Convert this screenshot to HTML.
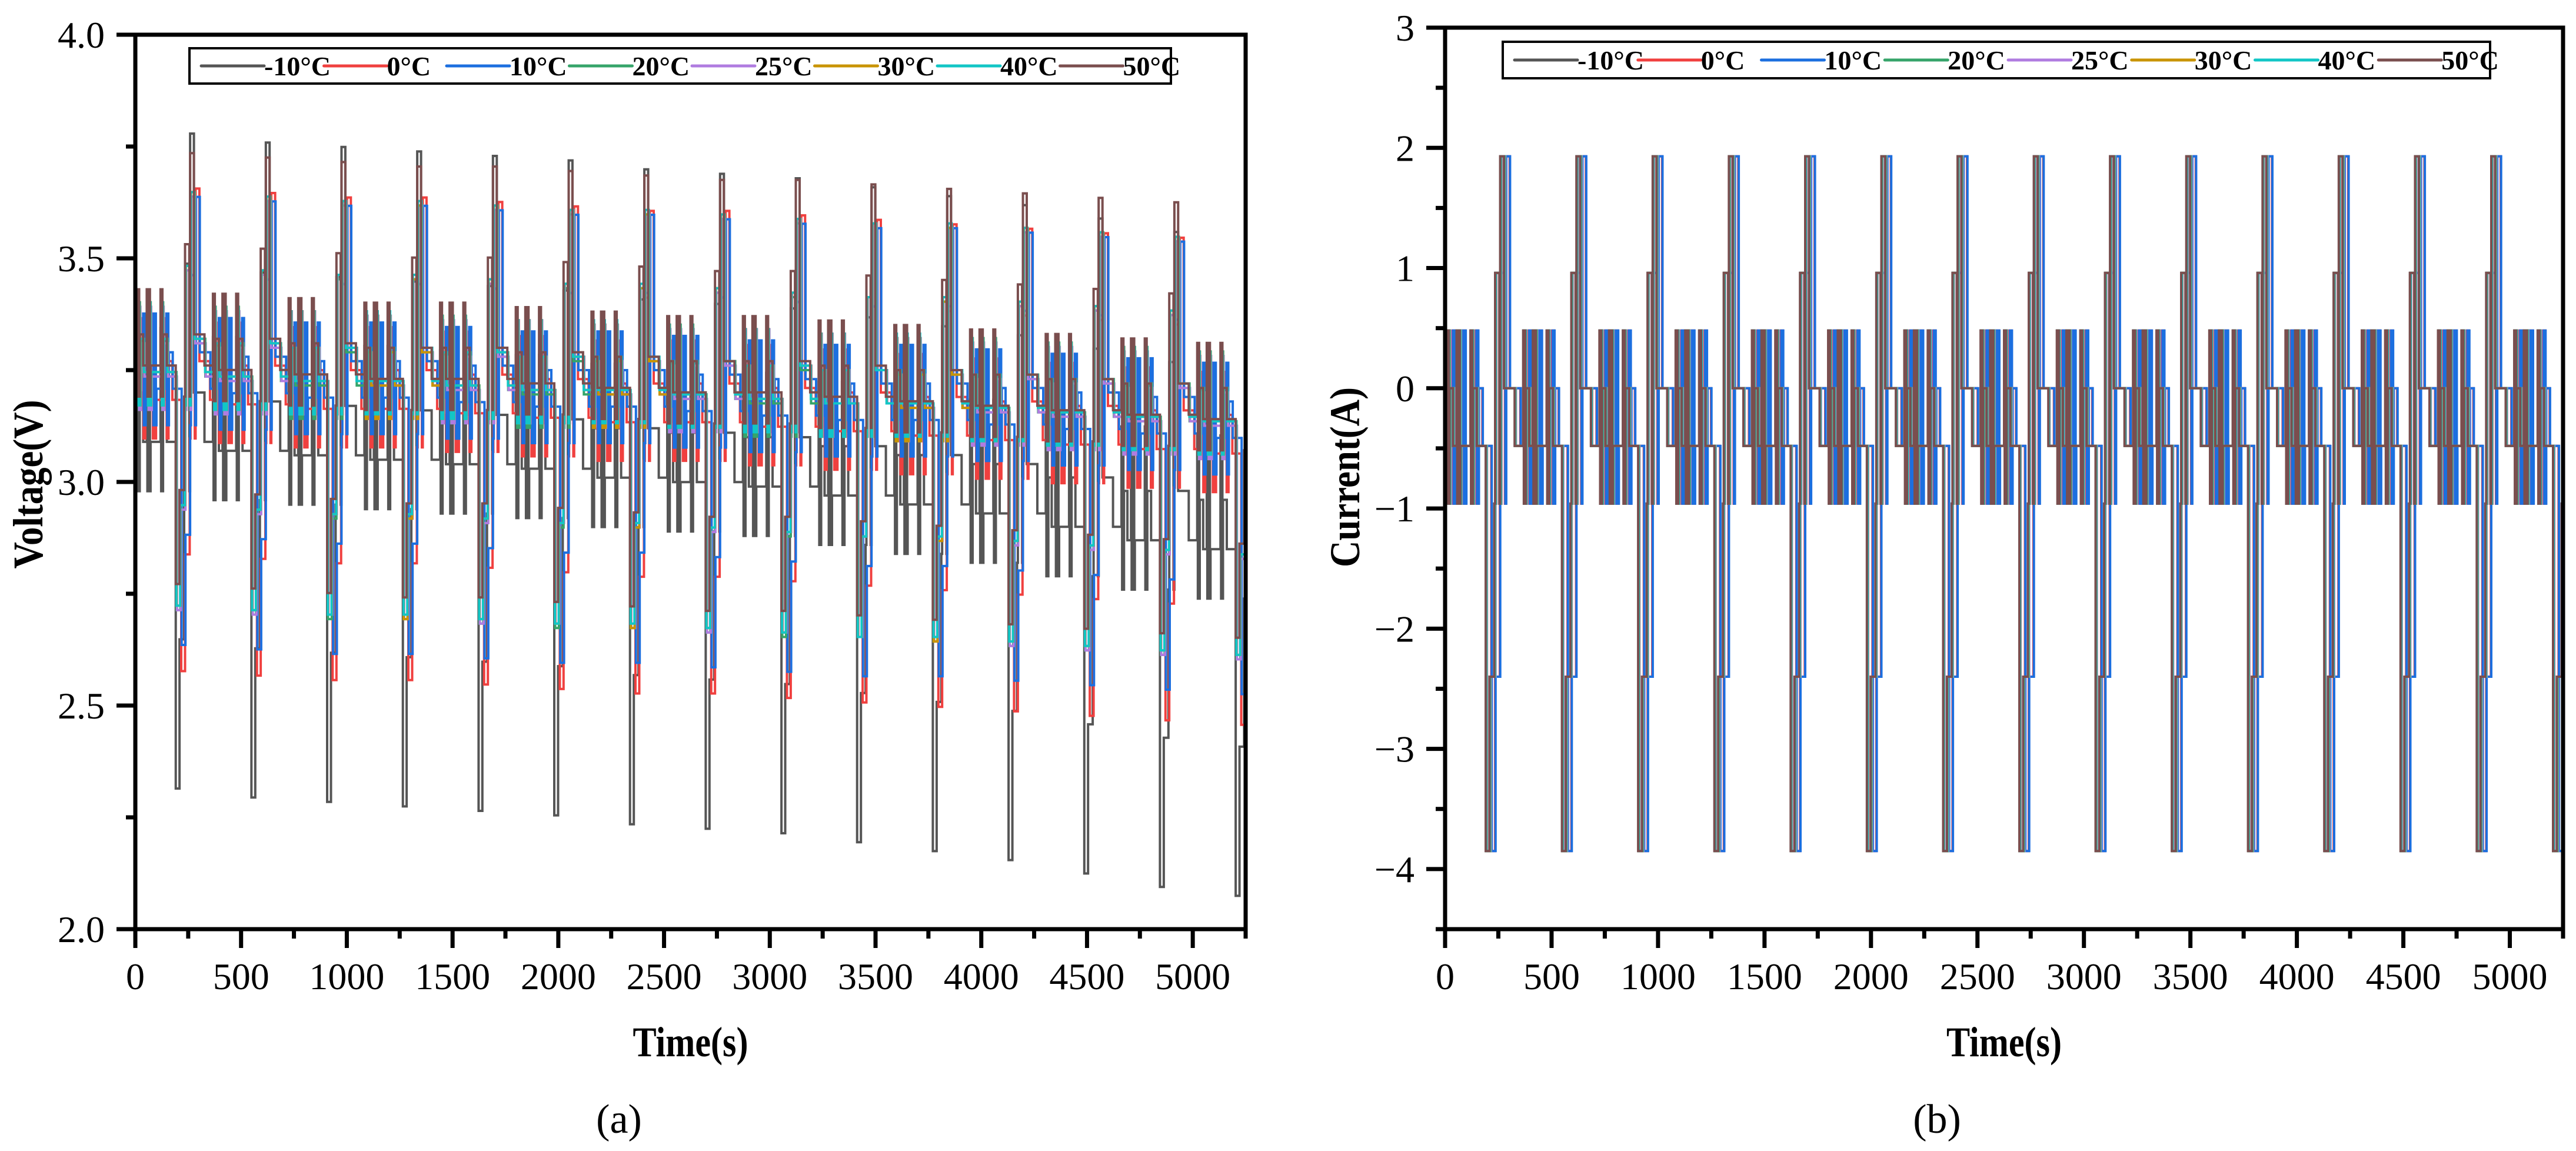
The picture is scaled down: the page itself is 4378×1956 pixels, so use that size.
<!DOCTYPE html>
<html><head><meta charset="utf-8">
<style>
html,body{margin:0;padding:0;background:#fff;}
svg{display:block;font-family:"Liberation Serif","DejaVu Serif",serif;}
svg text{font-family:"Liberation Serif","DejaVu Serif",serif;}
</style></head>
<body>
<svg id="fig" width="4378" height="1956" viewBox="0 0 4378 1956" xmlns="http://www.w3.org/2000/svg" font-family="'Liberation Serif', 'DejaVu Serif', serif">
<rect x="0" y="0" width="4378" height="1956" fill="#fff"/>
<g id="panelA"></g>
<g id="panelB"></g>
<text x="1052" y="1925" font-size="70" font-family="'Liberation Serif', 'DejaVu Serif', serif" text-anchor="middle">(a)</text>
<text x="3292" y="1925" font-size="70" font-family="'Liberation Serif', 'DejaVu Serif', serif" text-anchor="middle">(b)</text>
</svg>
<script>
// ---- data ----
const seriesNames = ["-10\u00B0C","0\u00B0C","10\u00B0C","20\u00B0C","25\u00B0C","30\u00B0C","40\u00B0C","50\u00B0C"];
const seriesColors = ["#555555","#f0403f","#1c6fdf","#36a46a","#b07ce0","#c99400","#12c6c6","#7a4e4e"];
// one-cycle current profile: relative start time (s) and current (A)
const profileTimes = [0,3,6,9,12,28,45,48,51,54,57,60,63,110,113,116,119,122,140,182,200,222,226,246,250,268,318];
const profileCurrents = [0.48,-0.96,0.48,-0.96,0,-0.48,0.48,-0.96,0.48,-0.96,0.48,-0.96,-0.48,0.48,-0.96,0.48,-0.96,0,-0.48,-3.85,-2.4,-0.96,0.96,-0.96,1.93,0,-0.48];
const cycleStart = 9;
const cyclePeriod = 358;
const cycleCount = 15;
const seriesShift = [0,26,28,4,6,4,3,0];
// rest voltage per cycle, per temperature
const ocvM10 = [3.20,3.18,3.17,3.16,3.15,3.14,3.12,3.11,3.10,3.08,3.06,3.04,3.01,2.98,2.96];
const ocv0   = [3.27,3.26,3.25,3.25,3.24,3.23,3.22,3.22,3.21,3.20,3.19,3.18,3.17,3.16,3.15];
const ocv10  = [3.29,3.28,3.27,3.27,3.26,3.25,3.25,3.24,3.23,3.22,3.22,3.21,3.20,3.19,3.18];
const ocv20  = [3.31,3.30,3.29,3.29,3.28,3.27,3.27,3.26,3.25,3.25,3.24,3.23,3.22,3.21,3.20];
const ocv25  = [3.31,3.30,3.30,3.29,3.28,3.28,3.27,3.26,3.26,3.25,3.24,3.23,3.22,3.21,3.20];
const ocv30  = [3.32,3.31,3.30,3.29,3.29,3.28,3.27,3.27,3.26,3.25,3.24,3.24,3.23,3.22,3.21];
const ocv40  = [3.32,3.31,3.30,3.30,3.29,3.28,3.28,3.27,3.26,3.25,3.25,3.24,3.23,3.22,3.21];
const ocv50  = [3.33,3.32,3.31,3.30,3.30,3.29,3.28,3.27,3.27,3.26,3.25,3.24,3.23,3.22,3.21];
const resDischarge = [0.23,0.18,0.17,0.155,0.155,0.155,0.155,0.145];
const resCharge = [0.30,0.20,0.18,0.17,0.17,0.17,0.17,0.21];
const xTicks = [0,500,1000,1500,2000,2500,3000,3500,4000,4500,5000];
const vTicks = [2.0,2.5,3.0,3.5,4.0];
const iTicks = [-4,-3,-2,-1,0,1,2,3];
const ocvAll = [ocvM10,ocv0,ocv10,ocv20,ocv25,ocv30,ocv40,ocv50];

const NS="http://www.w3.org/2000/svg";
const FF="'Liberation Serif', 'DejaVu Serif', serif";
function mk(tag,attrs,parent){const e=document.createElementNS(NS,tag);for(const k in attrs)e.setAttribute(k,attrs[k]);if(tag==="text")e.setAttribute("font-family",FF);parent.appendChild(e);return e;}

const tMax=5250;
function buildSteps(si){
  const steps=[[0,0,0]];
  for(let k=0;k<cycleCount;k++){
    for(let j=0;j<profileTimes.length;j++){
      const t=cycleStart+k*cyclePeriod+seriesShift[si]+profileTimes[j];
      if(t<tMax) steps.push([t,profileCurrents[j],k]);
    }
  }
  return steps;
}
function volt(si,I,k){
  const o=ocvAll[si][Math.min(k,ocvAll[si].length-1)];
  return I<0? o+I*resDischarge[si] : o+I*resCharge[si];
}

function panel(g,cfg){
  const {L,R,T,B,yMin,yMax,ticks,minorStep,fmt,title,titleLen,legend,valueFn,prefix}=cfg;
  const X=t=>L+(t/tMax)*(R-L);
  const Y=v=>B-(v-yMin)/(yMax-yMin)*(B-T);
  const clipId=prefix+"clip";
  const defs=mk("defs",{},g);
  const cp=mk("clipPath",{id:clipId},defs);
  mk("rect",{x:L,y:T,width:R-L,height:B-T},cp);
  const plot=mk("g",{"clip-path":"url(#"+clipId+")"},g);
  
  
  for(let si=0;si<seriesNames.length;si++){
    const st=buildSteps(si);
    let d="";
    for(let i=0;i<st.length;i++){
      const x=X(st[i][0]);const y=Y(valueFn(si,st[i][1],st[i][2]));
      if(i===0) d+="M"+x.toFixed(1)+" "+y.toFixed(1);
      else d+="H"+x.toFixed(1)+"V"+y.toFixed(1);
    }
    d+="H"+X(tMax).toFixed(1);
    const p=mk("path",{d:d,fill:"none",stroke:seriesColors[si],"stroke-width":4,"stroke-linejoin":"miter"},plot);
    
    
  }
  const fr=mk("rect",{x:L,y:T,width:R-L,height:B-T,fill:"none",stroke:"#000","stroke-width":7},g);
  
  
  const xa=mk("g",{},g);
  
  
  for(let t=0;t<=tMax;t+=250){
    const major=(t%500===0);
    mk("line",{x1:X(t),x2:X(t),y1:B,y2:B+(major?32:16),stroke:"#000","stroke-width":7},xa);
  }
  xTicks.forEach(t=>{
    const tx=mk("text",{x:X(t),y:B+102,"font-size":64,"text-anchor":"middle"},xa);
    tx.textContent=String(t);
    
    
  });
  const xt=mk("text",{x:(L+R)/2,y:1795,"font-size":72,"font-weight":"bold","text-anchor":"middle",textLength:196,lengthAdjust:"spacingAndGlyphs"},g);
  xt.textContent="Time(s)";
  
  
  const ya=mk("g",{},g);
  
  
  for(let v=yMin;v<=yMax+1e-6;v+=minorStep){
    const isMajor=ticks.some(tk=>Math.abs(tk-v)<1e-6);
    mk("line",{x1:L-(isMajor?32:16),x2:L,y1:Y(v),y2:Y(v),stroke:"#000","stroke-width":7},ya);
  }
  ticks.forEach(v=>{
    const tx=mk("text",{x:L-52,y:Y(v)+22,"font-size":64,"text-anchor":"end"},ya);
    tx.textContent=fmt(v);
    
    
  });
  const yt=mk("text",{x:0,y:0,"font-size":72,"font-weight":"bold","text-anchor":"middle",textLength:titleLen,lengthAdjust:"spacingAndGlyphs",transform:"translate("+cfg.yTitleX+","+cfg.yTitleY+") rotate(-90)"},g);
  yt.textContent=title;
  
  
  const lg=mk("g",{},g);
  
  
  mk("rect",{x:legend.x,y:legend.y,width:legend.w,height:legend.h,fill:"#fff",stroke:"#000","stroke-width":4},lg);
  const ew=legend.w/8;
  for(let si=0;si<8;si++){
    const ex=legend.x+20+si*ew;const ey=legend.y+legend.h/2;
    const ent=mk("g",{},lg);
    
    
    mk("line",{x1:ex,x2:ex+107,y1:ey,y2:ey,stroke:seriesColors[si],"stroke-width":5,"stroke-linecap":"round"},ent);
    const tx=mk("text",{x:ex+107,y:ey+16,"font-size":46,"font-weight":"bold"},ent);
    tx.textContent=seriesNames[si];
  }
}

panel(document.getElementById("panelA"),{
  L:230,R:2117,T:59,B:1579,yMin:2.0,yMax:4.0,ticks:vTicks,minorStep:0.25,
  fmt:v=>v.toFixed(1),title:"Voltage(V)",titleLen:287,yTitleX:72,yTitleY:823,
  legend:{x:322,y:82,w:1668,h:60},prefix:"a",
  valueFn:(si,I,k)=>volt(si,I,k)
});
panel(document.getElementById("panelB"),{
  L:2456,R:4356,T:47,B:1579,yMin:-4.5,yMax:3,ticks:iTicks,minorStep:0.5,
  fmt:v=>(v<0?"\u2212"+(-v):String(v)),title:"Current(A)",titleLen:306,yTitleX:2310,yTitleY:811,
  legend:{x:2554,y:71,w:1678,h:62},prefix:"b",
  valueFn:(si,I,k)=>I
});
</script>
</body></html>
